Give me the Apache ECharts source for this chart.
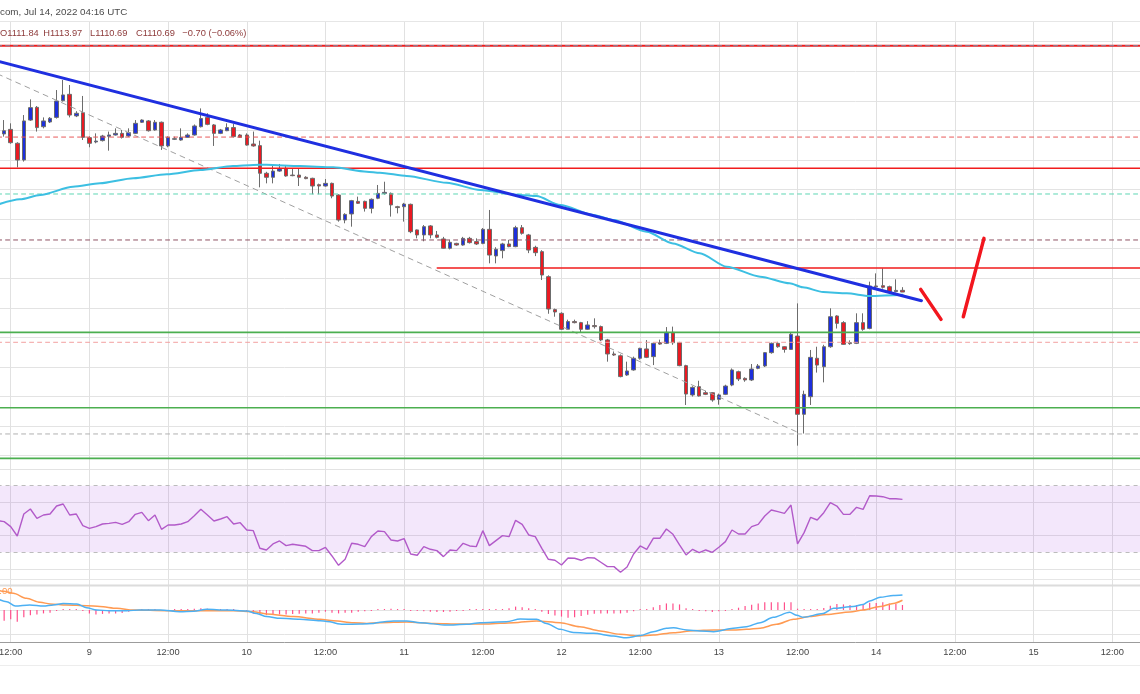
<!DOCTYPE html>
<html><head><meta charset="utf-8">
<script src="https://cdn.jsdelivr.net/npm/echarts@6/dist/echarts.min.js"></script>
<style>html,body{margin:0;padding:0;background:#fff;}#chart{width:1140px;height:694px;}</style>
</head><body><div id="chart"></div>
<script>
// ---------- DATA ----------
const startUTC = Date.UTC(2022, 6, 8, 10, 0);   // first slot: Jul 8 10:00 UTC (hourly)
const hourCount = 176;                           // slots up to Jul 15 17:00
const firstCandleSlot = 1;                       // first candle: Jul 8 11:00
const headerText = 'com, Jul 14, 2022 04:16 UTC';
const legendItems = ['O1111.84', 'H1113.97', 'L1110.69', 'C1110.69', '\u22120.70 (\u22120.06%)'];
const macdLegend = '0.00';
// hourly candles [open, high, low, close], Jul 8 11:00 .. Jul 14 04:00
const candles = [
[1217.6,1227.0,1215.8,1219.8],[1220.7,1224.8,1211.0,1211.7],[1211.3,1212.0,1195.0,1200.0],[1200.0,1230.4,1198.9,1226.4],
[1227.0,1241.0,1226.4,1235.4],[1235.6,1236.5,1219.2,1221.9],[1222.5,1228.8,1221.4,1226.4],[1225.7,1229.0,1225.0,1228.2],
[1228.8,1247.3,1228.0,1239.9],[1240.1,1254.1,1239.5,1244.0],[1244.4,1250.7,1228.8,1230.4],[1229.8,1233.0,1229.0,1231.6],
[1232.0,1243.3,1213.5,1215.3],[1215.1,1216.0,1208.6,1211.3],[1212.2,1218.0,1211.3,1212.8],[1213.1,1217.0,1212.5,1216.2],
[1216.0,1219.2,1206.3,1216.9],[1216.9,1221.4,1216.5,1218.0],[1218.0,1220.3,1214.5,1215.3],[1216.2,1221.4,1215.5,1218.5],
[1218.0,1227.0,1217.5,1224.8],[1225.5,1227.5,1225.0,1227.0],[1226.4,1227.0,1219.2,1219.8],[1220.3,1227.0,1219.8,1225.5],
[1225.5,1226.0,1206.8,1209.5],[1209.5,1216.0,1208.6,1215.3],[1214.0,1215.8,1213.5,1214.4],[1213.5,1221.4,1213.0,1215.3],
[1215.3,1218.0,1215.0,1216.9],[1216.9,1224.0,1216.5,1223.0],[1222.5,1234.9,1222.0,1228.0],[1228.8,1231.6,1223.5,1224.1],
[1223.7,1224.3,1209.5,1218.0],[1218.0,1221.0,1217.5,1220.3],[1219.8,1224.8,1219.5,1221.9],[1221.9,1224.3,1215.3,1215.8],
[1216.9,1217.5,1215.0,1215.3],[1216.9,1218.0,1209.7,1210.1],[1210.8,1219.2,1209.0,1209.5],[1209.7,1213.1,1181.5,1191.0],
[1191.0,1192.0,1184.2,1188.3],[1188.3,1196.6,1184.2,1192.5],[1192.5,1197.3,1192.0,1194.1],[1194.3,1196.6,1188.7,1189.2],
[1189.8,1194.3,1189.0,1189.4],[1189.8,1194.3,1182.4,1188.3],[1188.3,1189.0,1187.0,1187.4],[1187.6,1188.0,1176.8,1182.4],
[1183.3,1184.0,1176.8,1182.4],[1182.4,1187.1,1182.0,1184.2],[1184.2,1184.7,1174.1,1175.6],[1176.3,1176.8,1158.3,1159.4],
[1159.4,1164.0,1157.2,1163.2],[1163.5,1173.0,1154.9,1172.5],[1172.0,1175.2,1170.3,1170.7],[1172.0,1172.5,1165.1,1167.3],
[1167.3,1174.0,1163.9,1173.4],[1174.1,1183.1,1173.5,1177.4],[1177.4,1185.3,1176.5,1178.1],[1177.4,1178.0,1161.7,1169.6],
[1168.4,1169.0,1163.9,1167.8],[1168.4,1171.0,1158.3,1170.2],[1170.0,1170.5,1150.5,1151.5],[1152.7,1153.0,1147.0,1149.3],
[1149.3,1156.0,1145.0,1154.9],[1155.4,1156.0,1147.0,1149.3],[1149.3,1152.0,1147.0,1147.7],[1146.6,1148.0,1140.0,1140.3],
[1140.3,1146.0,1139.5,1144.3],[1143.6,1144.0,1142.0,1142.5],[1142.5,1148.0,1142.0,1147.0],[1147.0,1148.0,1143.5,1144.1],
[1144.8,1147.0,1142.5,1143.2],[1143.6,1154.0,1143.0,1153.1],[1153.1,1166.2,1130.1,1135.7],[1135.1,1141.0,1130.1,1139.6],
[1138.7,1144.0,1133.5,1143.2],[1143.2,1146.0,1141.0,1141.4],[1141.4,1155.5,1141.0,1154.2],[1154.2,1156.0,1149.5,1150.4],
[1149.3,1150.0,1137.0,1139.1],[1140.9,1142.0,1135.0,1137.3],[1138.0,1139.0,1118.8,1122.2],[1121.1,1122.0,1096.0,1099.2],
[1098.8,1099.5,1094.0,1097.2],[1096.3,1097.0,1085.0,1085.5],[1085.5,1092.0,1085.0,1090.7],[1090.7,1092.0,1089.5,1090.0],
[1090.0,1090.5,1083.0,1085.5],[1085.5,1091.0,1085.0,1088.4],[1088.0,1092.9,1086.0,1087.3],[1087.3,1088.0,1077.5,1078.3],
[1078.3,1079.0,1063.6,1068.8],[1068.8,1070.5,1067.5,1068.1],[1067.6,1068.5,1053.0,1053.5],[1054.6,1063.6,1054.0,1057.3],
[1058.0,1067.0,1057.5,1065.9],[1065.9,1073.0,1065.0,1072.6],[1072.2,1078.2,1066.0,1066.5],[1067.0,1076.5,1061.3,1076.0],
[1076.4,1078.5,1075.0,1075.5],[1076.0,1087.0,1075.5,1083.4],[1083.4,1087.3,1075.0,1076.4],[1076.4,1077.0,1060.5,1060.9],
[1060.9,1061.5,1034.3,1041.7],[1041.1,1047.0,1040.0,1046.2],[1046.7,1050.7,1040.0,1040.4],[1042.6,1044.0,1041.0,1041.5],
[1042.6,1043.0,1036.5,1037.7],[1038.1,1042.0,1034.5,1041.1],[1041.5,1048.0,1041.0,1047.1],[1047.8,1059.0,1047.0,1058.0],
[1056.8,1057.5,1050.5,1051.9],[1052.3,1053.0,1050.0,1051.2],[1051.2,1062.0,1050.5,1058.6],[1059.1,1062.0,1058.5,1060.7],
[1060.7,1070.0,1060.0,1069.7],[1069.7,1076.5,1069.0,1076.0],[1076.0,1077.0,1073.0,1073.7],[1073.7,1074.0,1069.7,1071.9],
[1071.9,1083.0,1071.5,1082.1],[1080.9,1103.0,1006.8,1028.0],[1028.0,1044.0,1015.0,1041.5],[1039.9,1071.5,1034.3,1066.5],
[1065.9,1073.7,1056.2,1061.3],[1060.2,1075.0,1049.6,1073.7],[1073.7,1099.7,1073.0,1094.0],[1094.5,1095.0,1086.0,1089.5],
[1090.0,1091.0,1075.0,1075.3],[1076.4,1078.0,1075.0,1075.8],[1076.0,1096.3,1075.5,1090.0],[1090.0,1096.3,1084.5,1085.5],
[1086.1,1117.7,1085.5,1114.8],[1114.8,1123.3,1113.5,1114.3],[1115.0,1126.7,1113.0,1113.9],[1114.3,1115.0,1110.0,1110.9],
[1111.0,1119.3,1110.5,1111.8],[1111.84,1113.97,1110.69,1110.69]
];
// moving average [slot, price]
const maLine = [[0,1169.8],[3.4,1173.4],[6.5,1176.3],[11.5,1181.9],[15.6,1184.2],[20.7,1187.6],[25.8,1190.3],[30.9,1193.2],
[35.9,1195.9],[39.0,1196.6],[41.0,1196.8],[46.1,1195.9],[51.2,1195.05],[56.3,1192.1],[58.3,1191.4],[62.4,1189.2],[68.5,1184.6],
[73.6,1179.7],[79.7,1176.3],[82.2,1175.6],[85.8,1169.55],[90.9,1162.8],[93.9,1159.4],[99.0,1151.5],[103.0,1143.6],[107.1,1136.9],
[111.2,1127.8],[116.3,1121.1],[120.8,1116.6],[122.8,1113.9],[125.9,1110.7],[129.5,1109.8],[133.0,1108.0],[137.6,1108.7],[138,1108.8]];
// drawn lines [slot, price]
const trendLine = [[0,1266.9],[140.9,1104.8]];
const diagLine = [[0,1258.2],[122.4,1015.1]];
const slashDown = [[140.78,1112.5],[143.88,1092.2]];
const slashUp = [[147.28,1094.0],[150.43,1147.0]];
const redLevels = [1277.3, 1194.4, 1126.9];
const redLevelStart = [0, 0, 67.06];
const greenLevels = [1083.4, 1032.4, 998.2];
const dashRed = 1215.5, dashTeal = 1177.0, dashMaroon = 1145.9, dashPink = 1076.7, dashGray = 1014.7, dashTop = 1277.3;
// RSI per slot (slot 0 .. 138)
const rsi = [49.0,48.4,45.4,39.8,53.0,56.0,50.4,52.4,53.0,57.8,
59.0,52.4,53.0,46.0,44.4,45.4,47.0,47.4,48.0,46.8,
48.4,52.8,54.0,49.0,52.4,43.8,46.4,46.4,47.0,48.4,
52.0,55.8,52.4,48.8,50.0,51.4,47.0,47.8,43.4,43.0,
32.4,31.4,35.0,36.8,34.0,34.8,34.2,33.6,31.0,31.0,
33.0,27.8,22.2,25.8,35.4,34.8,33.4,39.4,42.8,42.4,
37.4,36.8,38.2,29.0,28.2,33.4,31.8,31.0,27.4,31.4,
31.0,35.4,33.8,33.4,43.0,34.0,37.0,40.0,39.4,49.2,
46.8,40.4,39.4,32.4,25.8,25.2,22.4,26.6,26.4,25.2,
26.8,26.6,24.0,21.4,21.4,18.0,21.2,29.0,33.8,31.8,
38.4,38.4,44.0,40.8,34.4,28.4,31.8,29.8,31.4,30.0,
33.0,36.4,43.4,41.0,41.0,45.4,46.8,51.8,55.4,54.4,
53.4,58.4,35.0,41.8,51.0,49.4,53.8,59.8,57.8,52.8,
52.8,57.0,55.8,64.0,63.8,63.4,62.2,62.2,61.8];
const rsiUpper = 70, rsiLower = 30;
// MACD histogram per candle (slot 1 .. 138)
const macdHist = [-4.4,-3.8,-4.8,-3.0,-2.2,-1.8,-1.4,-1.1,-0.1,0.3,
0.3,0.15,-0.1,-1.4,-1.8,-1.6,-1.4,-1.4,-1.2,-0.7,
-0.3,0.1,0,0,-0.1,-0.1,0,0.15,0.3,0.55,
0.7,0.55,0.4,0.3,0.1,0,-0.1,-0.8,-1.5,-1.8,
-2.1,-2.1,-1.8,-1.8,-1.6,-1.5,-1.4,-1.4,-1.1,-0.7,
-1.1,-1.4,-1.1,-1.1,-0.7,-0.55,-0.1,0.3,0.4,0.55,
0.4,0.3,-0.1,-0.4,-0.55,-0.7,-0.8,-0.8,-0.7,-0.4,
-0.1,0.1,0.3,0.4,0.4,0.4,0.4,0.7,1.4,1.1,
0.7,0.3,-0.7,-1.6,-2.3,-2.7,-3.15,-3.0,-2.5,-1.9,
-1.5,-1.4,-1.4,-1.4,-1.4,-1.1,-0.55,0,0.4,1.1,
2.05,2.7,2.7,2.3,0.7,0.1,-0.1,-0.55,-0.8,-0.55,
-0.3,0.4,0.95,1.65,2.2,2.7,3.15,3.15,3.15,3.15,
3.15,0.55,0.4,0.3,0.4,0.8,1.8,2.5,2.3,2.05,
2.05,2.5,3.0,2.9,3.15,2.7,2.5,2.05];
// MACD & signal [slot, value]
const macdLine = [[0,4.6],[1.4,3.4],[2.7,1.6],[4.9,2.05],[7.0,1.6],[8.5,2.05],[10.0,2.7],[12.1,2.5],[13.6,0.95],[15.1,0],
[17.1,-0.3],[19.7,-0.3],[21.7,0],[24.8,0],[27.8,-0.7],[29.9,-0.55],[31.9,0.3],[34.9,0],[38,-0.4],[39.5,-1.4],[41.0,-2.7],
[43.1,-3.4],[46.1,-3.8],[49.2,-4.4],[50.2,-4.7],[52.7,-5.9],[55.3,-5.75],[57.3,-5.5],[58.3,-5.0],[60.4,-4.5],[62.4,-4.5],
[64.4,-5.2],[68.5,-6.2],[71.5,-5.9],[73.6,-5.2],[77.6,-4.8],[79.7,-3.7],[82.2,-3.8],[83.7,-5.5],[85.8,-7.95],[87.8,-9.2],
[90.9,-9.6],[93.9,-10.7],[95.9,-11.4],[98.0,-10.5],[100,-8.9],[102,-7.5],[103.1,-7.3],[105.1,-8.2],[107.1,-8.6],[109.2,-8.9],
[112.2,-7.5],[114.2,-6.85],[116.3,-5.2],[118.3,-3.0],[120.8,-0.95],[121.9,-2.2],[122.9,-3.0],[125.9,-1.4],[127.5,0.7],
[130.5,1.4],[132.0,2.3],[133.0,3.7],[134.6,5.2],[136.6,6.0],[138,6.2]];
const signalLine = [[0,8.2],[0.9,7.7],[2.4,6.85],[4.4,4.8],[6.5,3.15],[8.0,2.5],[10.5,2.05],[13.6,1.8],[15.6,1.4],[18.2,0.7],
[20.7,0],[25.8,-0.3],[30.9,-0.3],[36.0,-0.3],[39.0,-0.7],[41.0,-1.6],[45.1,-2.7],[49.2,-3.8],[51.2,-4.4],[54.3,-5.2],
[56.3,-5.5],[58.3,-5.2],[62.4,-4.9],[66.5,-5.5],[70.5,-5.75],[74.6,-5.75],[78.7,-5.2],[82.2,-4.5],[85.8,-5.2],[88.8,-6.85],
[91.9,-8.6],[94.9,-10.0],[98,-10.7],[100,-10.3],[103.1,-9.3],[106.1,-8.5],[109.2,-8.2],[112.2,-8.2],[114.2,-7.95],[116.3,-7.5],
[118.8,-5.9],[121.4,-3.8],[123.9,-2.7],[126.4,-1.8],[130,-0.8],[132,0],[134.6,1.4],[136.6,2.7],[138,4.0]];
// axis ranges
const priceMin = 995.74, priceMax = 1293.32, priceStep = 20;
const rsiMin = 10.36, rsiMax = 84.23, rsiStep = 20;
const macdMin = -13.15, macdMax = 10.28, macdStep = 10;

// ---------- BUILD ----------
const cats = [];
for (let k = 0; k < hourCount; k++) cats.push(new Date(startUTC + k * 3600000).toISOString().slice(0, 16));
const hourOf = (s) => parseInt(s.slice(11, 13), 10);
const isTick = (i) => hourOf(cats[i]) % 12 === 0;
const tickFmt = (v) => hourOf(v) === 0 ? String(parseInt(v.slice(8, 10), 10)) : '12:00';
const lastSlot = hourCount - 1;

const GL = -2.41, GW = 1147.475;
const FONT = 'Liberation Sans';

function catAxis(gi, labels) {
  return {
    type: 'category', gridIndex: gi, data: cats, boundaryGap: false,
    axisLine: {show: labels, onZero: false, lineStyle: {color: '#9c9c9c', width: 1}},
    axisTick: {show: false},
    axisLabel: {show: labels, interval: (i) => isTick(i), formatter: tickFmt, color: '#454545',
      fontSize: 9.3, fontFamily: FONT, margin: 6},
    splitLine: {show: true, interval: (i) => isTick(i), lineStyle: {color: '#e1e1e1', width: 1}}
  };
}
function valXAxis(gi) { return {type: 'value', gridIndex: gi, min: 0, max: lastSlot, show: false, splitLine: {show: false}}; }
function valYAxis(gi, mn, mx, step) {
  return {type: 'value', gridIndex: gi, min: mn, max: mx, minInterval: step, maxInterval: step, splitNumber: 20,
    axisLine: {show: false}, axisTick: {show: false}, axisLabel: {show: false},
    splitLine: {show: true, showMinLine: false, showMaxLine: false, lineStyle: {color: '#e3e3e3', width: 1}}};
}
function seg(data, color, width, type, z, xi) {
  return {type: 'line', xAxisIndex: xi === undefined ? 3 : xi, yAxisIndex: 0, data: data, symbol: 'none', silent: true,
    lineStyle: {color: color, width: width, type: type || 'solid', cap: 'round'}, z: z || 5, animation: false};
}
const hLine = (p, from) => [[from || 0, p], [lastSlot, p]];

const candleRows = candles.map((c, i) => [firstCandleSlot + i, c[0], c[3], c[2], c[1]]);
const histRows = macdHist.map((v, i) => [firstCandleSlot + i, v]);

const series = [
  {type: 'candlestick', xAxisIndex: 0, yAxisIndex: 0, data: candleRows, encode: {x: 0, y: [1, 2, 3, 4]},
   barWidth: 4, clip: false, z: 3,
   itemStyle: {color: '#1d2fdc', color0: '#ea1a22', borderColor: '#6c6c6c', borderColor0: '#6c6c6c', borderWidth: 1}},
  seg(hLine(dashRed), '#e85a5a', 1, [4, 4]),
  seg(hLine(dashTeal), '#5ed6b4', 1, [4, 4]),
  seg(hLine(dashMaroon), '#8e5262', 1, [4, 4]),
  seg(hLine(dashPink), '#f2a0a0', 1, [4, 4]),
  seg(hLine(dashGray), '#b0b0b0', 1, [4, 4]),
  seg(hLine(redLevels[0], redLevelStart[0]), '#f11c1c', 2, 'solid', 6),
  seg(hLine(dashTop), '#7c8aa6', 1, [4, 4], 7),
  seg(hLine(redLevels[1], redLevelStart[1]), '#f11c1c', 1.6, 'solid', 6),
  seg(hLine(redLevels[2], redLevelStart[2]), '#f11c1c', 1.6, 'solid', 6),
  seg(hLine(greenLevels[0]), '#4caf50', 1.6, 'solid', 6),
  seg(hLine(greenLevels[1]), '#4caf50', 1.6, 'solid', 6),
  seg(hLine(greenLevels[2]), '#4caf50', 1.6, 'solid', 6),
  seg(diagLine, '#a0a0a0', 1, [5, 5], 4),
  Object.assign(seg(maLine, '#3cbfe2', 2, 'solid', 7), {smooth: 0.25, smoothMonotone: 'x'}),
  seg(trendLine, '#1f2fe0', 3, 'solid', 8),
  seg(slashDown, '#f2161e', 3.5, 'solid', 8),
  seg(slashUp, '#f2161e', 3.5, 'solid', 8),
  {type: 'line', xAxisIndex: 1, yAxisIndex: 1, data: rsi, symbol: 'none', silent: true, z: 5,
   lineStyle: {color: '#b25ac9', width: 1.4},
   markArea: {silent: true, itemStyle: {color: 'rgba(155,60,220,0.12)'}, data: [[{yAxis: rsiLower}, {yAxis: rsiUpper}]]},
   markLine: {silent: true, symbol: 'none', label: {show: false},
     lineStyle: {color: '#bcbcbc', width: 1, type: [4, 4]}, data: [{yAxis: rsiUpper}, {yAxis: rsiLower}]}},
  {type: 'bar', xAxisIndex: 2, yAxisIndex: 2, data: histRows, barWidth: 1.2, barMinHeight: 1, silent: true,
   itemStyle: {color: '#ff4f8b'}, z: 3},
  {type: 'line', xAxisIndex: 4, yAxisIndex: 2, data: signalLine, symbol: 'none', silent: true, smooth: 0.3, smoothMonotone: 'x', z: 4,
   lineStyle: {color: '#ff9a52', width: 1.5}},
  {type: 'line', xAxisIndex: 4, yAxisIndex: 2, data: macdLine, symbol: 'none', silent: true, smooth: 0.3, smoothMonotone: 'x', z: 5,
   lineStyle: {color: '#4cb0f3', width: 1.5}}
];

const legendX = [0, 43.3, 90, 136, 182.3];
const graphics = [
  {type: 'line', shape: {x1: 0, y1: 21.5, x2: 1140, y2: 21.5}, style: {stroke: '#e6e6e6', lineWidth: 1}, z: 50},
  {type: 'line', shape: {x1: 0, y1: 579.5, x2: 1140, y2: 579.5}, style: {stroke: '#e6e6e6', lineWidth: 1}, z: 50},
  {type: 'line', shape: {x1: 0, y1: 585.5, x2: 1140, y2: 585.5}, style: {stroke: '#dcdcdc', lineWidth: 2}, z: 50},
  {type: 'line', shape: {x1: 0, y1: 665.5, x2: 1140, y2: 665.5}, style: {stroke: '#ededed', lineWidth: 1}, z: 50},
  {type: 'text', x: 0, y: 12.7, z: 60, style: {text: headerText, fill: '#4a4a4a', fontSize: 9.8, fontFamily: FONT, verticalAlign: 'middle'}},
  {type: 'text', x: -6, y: 591.7, z: 60, style: {text: macdLegend, fill: '#ff9a52', fontSize: 9.6, fontFamily: FONT, verticalAlign: 'middle'}}
].concat(legendItems.map((t, i) => ({type: 'text', x: legendX[i], y: 33.3, z: 60,
  style: {text: t, fill: '#8e3b3b', fontSize: 9.3, fontFamily: FONT, verticalAlign: 'middle'}})));

const option = {
  animation: false,
  backgroundColor: '#ffffff',
  grid: [
    {left: GL, width: GW, top: 22, height: 440, outerBoundsMode: 'none', containLabel: false},
    {left: GL, width: GW, top: 462, height: 123, outerBoundsMode: 'none', containLabel: false},
    {left: GL, width: GW, top: 585, height: 57, outerBoundsMode: 'none', containLabel: false}
  ],
  xAxis: [catAxis(0, false), catAxis(1, false), catAxis(2, true), valXAxis(0), valXAxis(2)],
  yAxis: [valYAxis(0, priceMin, priceMax, priceStep), valYAxis(1, rsiMin, rsiMax, rsiStep), valYAxis(2, macdMin, macdMax, macdStep)],
  series: series,
  graphic: {elements: graphics}
};
const chart = echarts.init(document.getElementById('chart'), null, {renderer: 'canvas'});
chart.setOption(option);
</script>
</body></html>
